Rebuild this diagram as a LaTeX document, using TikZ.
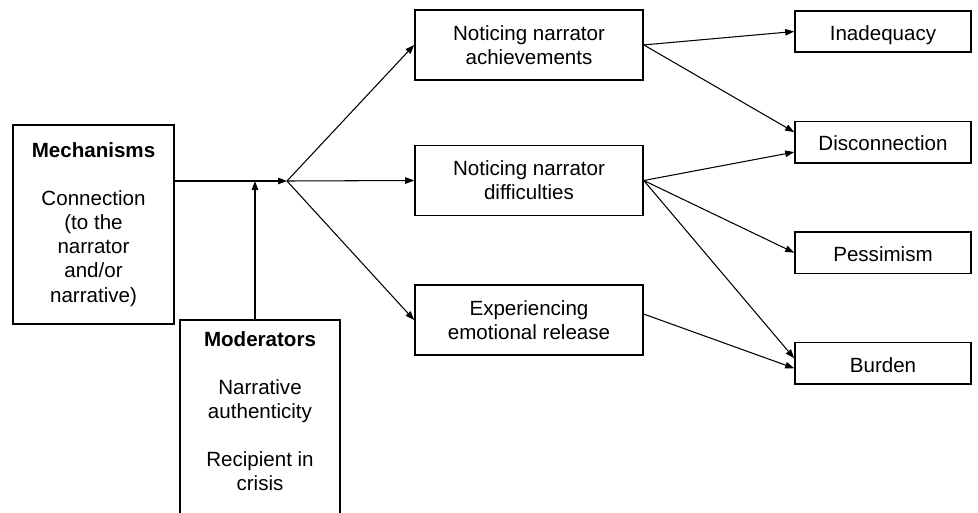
\documentclass[tikz,border=0pt]{standalone}
\usepackage{fontspec}
\setmainfont{Liberation Sans}
\usetikzlibrary{positioning,arrows.meta}
\tikzset{>={Triangle[length=1.8mm,width=1.3mm]}}

\begin{document}
\begin{tikzpicture}[font=\fontsize{11.7}{13.7}\selectfont,
    frame/.style={draw,line width=0.9pt,inner sep=0pt},
    midbox/.style={frame,align=center,minimum width=4.56cm,minimum height=1.4cm},
    outbox/.style={frame,minimum width=3.52cm,minimum height=0.83cm,text height=1.05em,text depth=0.05em},
    link/.style={->,line width=0.6pt}]
  \useasboundingbox (0,0) rectangle (19.56,-10.24);
  \clip (0,0) rectangle (19.56,-10.24);
  % mechanisms and moderators
  \node [frame,align=center,minimum width=3.22cm,minimum height=3.98cm] (mech) at (1.87,-4.49)
    {\textbf{Mechanisms}\\[13.7pt]Connection\\(to the\\narrator\\and/or\\narrative)};
  \node [frame,minimum width=3.2cm,minimum height=4.4cm,anchor=north] (mod) at (5.2,-6.38) {};
  \node [align=center,below=1.2mm of mod.north] (modtxt)
    {\textbf{Moderators}\\[13.7pt]Narrative\\authenticity\\[13.7pt]Recipient in\\crisis};
  \coordinate (jn) at (5.74,-3.62);
  \coordinate (mj) at (5.1,-3.62);
  % middle column
  \node [midbox] (dif) at (10.58,-3.61) {Noticing narrator\\difficulties};
  \node [midbox,above=1.28cm of dif] (ach) {Noticing narrator\\achievements};
  \node [midbox,below=1.36cm of dif] (emo) {Experiencing\\emotional release};
  % outcomes
  \node [outbox] (inad) at (17.66,-0.63) {Inadequacy};
  \node [outbox,below=1.35cm of inad] (disc) {Disconnection};
  \node [outbox,below=1.35cm of disc] (pess) {Pessimism};
  \node [outbox,below=1.35cm of pess] (burd) {Burden};
  % arrows
  \draw [link] (mech.east |- jn) -- (jn);
  \draw [link] (mod.north -| mj) -- (mj);
  \foreach \b in {ach,dif,emo}
    \draw [link] (jn) -- (\b.west);
  \draw [link] (ach.east) -- (inad.west);
  \draw [link] (ach.east) -- ([yshift=2mm]disc.west);
  \draw [link] (dif.east) -- ([yshift=-2mm]disc.west);
  \draw [link] (dif.east) -- (pess.west);
  \draw [link] (dif.east) -- ([yshift=1mm]burd.west);
  \draw [link] ([yshift=1.2mm]emo.east) -- ([yshift=-1mm]burd.west);
\end{tikzpicture}
\end{document}
